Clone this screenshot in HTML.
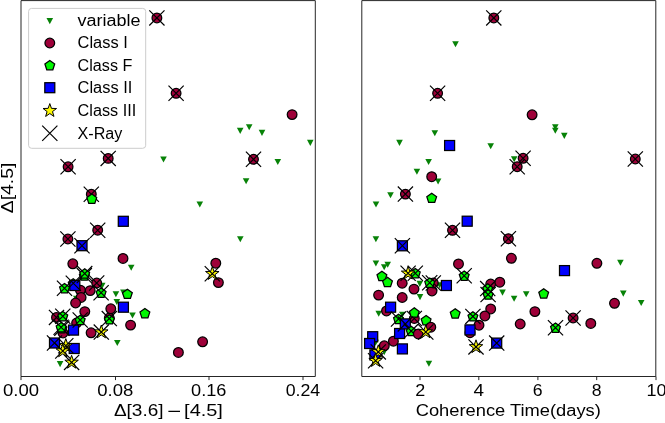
<!DOCTYPE html><html><head><meta charset="utf-8"><style>html,body{margin:0;padding:0;background:#fff}body{width:665px;height:423px;position:relative;overflow:hidden;font-family:"Liberation Sans",sans-serif}</style></head><body><svg width="665" height="423" viewBox="0 0 665 423" style="position:absolute;left:0;top:0;will-change:transform;opacity:0.999">
<rect width="665" height="423" fill="#fff"/>
<defs><clipPath id="cl"><rect x="21" y="0" width="294" height="376"/></clipPath><clipPath id="cr"><rect x="361" y="0" width="294" height="376"/></clipPath></defs>
<g>
<path d="M236.90,127.85L243.50,127.85L240.20,133.95Z" fill="#078207"/>
<path d="M245.90,124.25L252.50,124.25L249.20,130.35Z" fill="#078207"/>
<path d="M258.70,129.85L265.30,129.85L262.00,135.95Z" fill="#078207"/>
<path d="M307.00,139.85L313.60,139.85L310.30,145.95Z" fill="#078207"/>
<path d="M160.20,156.45L166.80,156.45L163.50,162.55Z" fill="#078207"/>
<path d="M274.50,158.95L281.10,158.95L277.80,165.05Z" fill="#078207"/>
<path d="M242.80,178.15L249.40,178.15L246.10,184.25Z" fill="#078207"/>
<path d="M196.50,201.45L203.10,201.45L199.80,207.55Z" fill="#078207"/>
<path d="M237.00,236.25L243.60,236.25L240.30,242.35Z" fill="#078207"/>
<path d="M127.90,264.75L134.50,264.75L131.20,270.85Z" fill="#078207"/>
<path d="M98.90,282.85L105.50,282.85L102.20,288.95Z" fill="#078207"/>
<path d="M112.60,291.25L119.20,291.25L115.90,297.35Z" fill="#078207"/>
<path d="M120.10,289.45L126.70,289.45L123.40,295.55Z" fill="#078207"/>
<path d="M113.50,298.95L120.10,298.95L116.80,305.05Z" fill="#078207"/>
<path d="M129.20,312.45L135.80,312.45L132.50,318.55Z" fill="#078207"/>
<path d="M114.00,339.95L120.60,339.95L117.30,346.05Z" fill="#078207"/>
<path d="M56.80,361.05L63.40,361.05L60.10,367.15Z" fill="#078207"/>
<path d="M73.00,295.85L79.60,295.85L76.30,301.95Z" fill="#078207"/>
<circle cx="156.90" cy="17.90" r="4.85" fill="#9e0039" stroke="#000" stroke-width="1.25"/>
<path d="M149.30,10.30L164.50,25.50M149.30,25.50L164.50,10.30" stroke="#000" stroke-width="1.2" fill="none"/>
<circle cx="176.10" cy="93.30" r="4.85" fill="#9e0039" stroke="#000" stroke-width="1.25"/>
<path d="M168.50,85.70L183.70,100.90M168.50,100.90L183.70,85.70" stroke="#000" stroke-width="1.2" fill="none"/>
<circle cx="292.10" cy="114.60" r="4.85" fill="#9e0039" stroke="#000" stroke-width="1.25"/>
<circle cx="253.50" cy="159.30" r="4.85" fill="#9e0039" stroke="#000" stroke-width="1.25"/>
<path d="M245.90,151.70L261.10,166.90M245.90,166.90L261.10,151.70" stroke="#000" stroke-width="1.2" fill="none"/>
<circle cx="108.20" cy="158.40" r="4.85" fill="#9e0039" stroke="#000" stroke-width="1.25"/>
<path d="M100.60,150.80L115.80,166.00M100.60,166.00L115.80,150.80" stroke="#000" stroke-width="1.2" fill="none"/>
<circle cx="68.10" cy="166.80" r="4.85" fill="#9e0039" stroke="#000" stroke-width="1.25"/>
<path d="M60.50,159.20L75.70,174.40M60.50,174.40L75.70,159.20" stroke="#000" stroke-width="1.2" fill="none"/>
<circle cx="91.30" cy="194.20" r="4.85" fill="#9e0039" stroke="#000" stroke-width="1.25"/>
<path d="M83.70,186.60L98.90,201.80M83.70,201.80L98.90,186.60" stroke="#000" stroke-width="1.2" fill="none"/>
<polygon points="91.80,194.05 96.70,197.61 94.83,203.37 88.77,203.37 86.90,197.61" fill="#00f800" stroke="#000" stroke-width="1.25" stroke-linejoin="miter"/>
<rect x="118.30" y="216.30" width="10.0" height="10.0" fill="#0000ff" stroke="#000" stroke-width="1.25"/>
<circle cx="97.70" cy="230.20" r="4.85" fill="#9e0039" stroke="#000" stroke-width="1.25"/>
<path d="M90.10,222.60L105.30,237.80M90.10,237.80L105.30,222.60" stroke="#000" stroke-width="1.2" fill="none"/>
<circle cx="67.90" cy="239.00" r="4.85" fill="#9e0039" stroke="#000" stroke-width="1.25"/>
<path d="M60.30,231.40L75.50,246.60M60.30,246.60L75.50,231.40" stroke="#000" stroke-width="1.2" fill="none"/>
<rect x="77.00" y="240.70" width="10.0" height="10.0" fill="#0000ff" stroke="#000" stroke-width="1.25"/>
<path d="M74.40,238.10L89.60,253.30M74.40,253.30L89.60,238.10" stroke="#000" stroke-width="1.2" fill="none"/>
<circle cx="218.40" cy="282.60" r="4.85" fill="#9e0039" stroke="#000" stroke-width="1.25"/>
<polygon points="212.30,266.60 213.98,271.39 219.05,271.51 215.01,274.58 216.47,279.44 212.30,276.55 208.13,279.44 209.59,274.58 205.55,271.51 210.62,271.39" fill="#fcf800" stroke="#000" stroke-width="1.0" stroke-linejoin="miter"/>
<path d="M204.70,266.10L219.90,281.30M204.70,281.30L219.90,266.10" stroke="#000" stroke-width="1.2" fill="none"/>
<circle cx="215.80" cy="263.20" r="4.85" fill="#9e0039" stroke="#000" stroke-width="1.25"/>
<circle cx="202.60" cy="341.80" r="4.85" fill="#9e0039" stroke="#000" stroke-width="1.25"/>
<circle cx="178.40" cy="352.40" r="4.85" fill="#9e0039" stroke="#000" stroke-width="1.25"/>
<circle cx="123.00" cy="258.40" r="4.85" fill="#9e0039" stroke="#000" stroke-width="1.25"/>
<circle cx="90.20" cy="290.60" r="4.85" fill="#9e0039" stroke="#000" stroke-width="1.25"/>
<circle cx="96.70" cy="283.00" r="4.85" fill="#9e0039" stroke="#000" stroke-width="1.25"/>
<path d="M89.10,275.40L104.30,290.60M89.10,290.60L104.30,275.40" stroke="#000" stroke-width="1.2" fill="none"/>
<polygon points="101.10,288.05 106.00,291.61 104.13,297.37 98.07,297.37 96.20,291.61" fill="#00f800" stroke="#000" stroke-width="1.25" stroke-linejoin="miter"/>
<path d="M93.50,285.20L108.70,300.40M93.50,300.40L108.70,285.20" stroke="#000" stroke-width="1.2" fill="none"/>
<polygon points="73.20,278.65 78.10,282.21 76.23,287.97 70.17,287.97 68.30,282.21" fill="#00f800" stroke="#000" stroke-width="1.25" stroke-linejoin="miter"/>
<circle cx="80.40" cy="290.10" r="4.85" fill="#9e0039" stroke="#000" stroke-width="1.25"/>
<rect x="69.80" y="280.50" width="10.0" height="10.0" fill="#0000ff" stroke="#000" stroke-width="1.25"/>
<path d="M65.70,275.70L80.90,290.90M65.70,290.90L80.90,275.70" stroke="#000" stroke-width="1.2" fill="none"/>
<polygon points="84.30,270.85 89.20,274.41 87.33,280.17 81.27,280.17 79.40,274.41" fill="#00f800" stroke="#000" stroke-width="1.25" stroke-linejoin="miter"/>
<path d="M76.70,268.00L91.90,283.20M76.70,283.20L91.90,268.00" stroke="#000" stroke-width="1.2" fill="none"/>
<polygon points="84.70,268.85 89.60,272.41 87.73,278.17 81.67,278.17 79.80,272.41" fill="#00f800" stroke="#000" stroke-width="1.25" stroke-linejoin="miter"/>
<path d="M77.10,266.00L92.30,281.20M77.10,281.20L92.30,266.00" stroke="#000" stroke-width="1.2" fill="none"/>
<circle cx="72.80" cy="263.80" r="4.85" fill="#9e0039" stroke="#000" stroke-width="1.25"/>
<polygon points="64.50,283.55 69.40,287.11 67.53,292.87 61.47,292.87 59.60,287.11" fill="#00f800" stroke="#000" stroke-width="1.25" stroke-linejoin="miter"/>
<path d="M56.90,280.70L72.10,295.90M56.90,295.90L72.10,280.70" stroke="#000" stroke-width="1.2" fill="none"/>
<circle cx="81.10" cy="297.40" r="4.85" fill="#9e0039" stroke="#000" stroke-width="1.25"/>
<circle cx="75.60" cy="303.00" r="4.85" fill="#9e0039" stroke="#000" stroke-width="1.25"/>
<polygon points="127.40,289.15 132.30,292.71 130.43,298.47 124.37,298.47 122.50,292.71" fill="#00f800" stroke="#000" stroke-width="1.25" stroke-linejoin="miter"/>
<circle cx="109.30" cy="318.00" r="4.85" fill="#9e0039" stroke="#000" stroke-width="1.25"/>
<polygon points="109.40,314.65 114.30,318.21 112.43,323.97 106.37,323.97 104.50,318.21" fill="#00f800" stroke="#000" stroke-width="1.25" stroke-linejoin="miter"/>
<path d="M101.70,311.00L116.90,326.20M101.70,326.20L116.90,311.00" stroke="#000" stroke-width="1.2" fill="none"/>
<circle cx="110.80" cy="308.80" r="4.85" fill="#9e0039" stroke="#000" stroke-width="1.25"/>
<rect x="118.40" y="302.20" width="10.0" height="10.0" fill="#0000ff" stroke="#000" stroke-width="1.25"/>
<polygon points="144.90,308.55 149.80,312.11 147.93,317.87 141.87,317.87 140.00,312.11" fill="#00f800" stroke="#000" stroke-width="1.25" stroke-linejoin="miter"/>
<circle cx="130.60" cy="325.10" r="4.85" fill="#9e0039" stroke="#000" stroke-width="1.25"/>
<circle cx="56.50" cy="317.40" r="4.85" fill="#9e0039" stroke="#000" stroke-width="1.25"/>
<path d="M48.90,309.80L64.10,325.00M48.90,325.00L64.10,309.80" stroke="#000" stroke-width="1.2" fill="none"/>
<polygon points="62.80,311.45 67.70,315.01 65.83,320.77 59.77,320.77 57.90,315.01" fill="#00f800" stroke="#000" stroke-width="1.25" stroke-linejoin="miter"/>
<path d="M55.20,308.60L70.40,323.80M55.20,323.80L70.40,308.60" stroke="#000" stroke-width="1.2" fill="none"/>
<circle cx="63.00" cy="333.00" r="4.85" fill="#9e0039" stroke="#000" stroke-width="1.25"/>
<polygon points="61.90,323.55 66.80,327.11 64.93,332.87 58.87,332.87 57.00,327.11" fill="#00f800" stroke="#000" stroke-width="1.25" stroke-linejoin="miter"/>
<path d="M54.30,320.70L69.50,335.90M54.30,335.90L69.50,320.70" stroke="#000" stroke-width="1.2" fill="none"/>
<polygon points="61.10,322.55 66.00,326.11 64.13,331.87 58.07,331.87 56.20,326.11" fill="#00f800" stroke="#000" stroke-width="1.25" stroke-linejoin="miter"/>
<path d="M53.50,319.70L68.70,334.90M53.50,334.90L68.70,319.70" stroke="#000" stroke-width="1.2" fill="none"/>
<circle cx="84.80" cy="311.60" r="4.85" fill="#9e0039" stroke="#000" stroke-width="1.25"/>
<circle cx="76.60" cy="323.00" r="4.85" fill="#9e0039" stroke="#000" stroke-width="1.25"/>
<rect x="68.50" y="325.10" width="10.0" height="10.0" fill="#0000ff" stroke="#000" stroke-width="1.25"/>
<polygon points="80.20,315.25 85.10,318.81 83.23,324.57 77.17,324.57 75.30,318.81" fill="#00f800" stroke="#000" stroke-width="1.25" stroke-linejoin="miter"/>
<path d="M72.60,312.40L87.80,327.60M72.60,327.60L87.80,312.40" stroke="#000" stroke-width="1.2" fill="none"/>
<circle cx="91.10" cy="332.80" r="4.85" fill="#9e0039" stroke="#000" stroke-width="1.25"/>
<polygon points="101.30,325.00 102.98,329.79 108.05,329.91 104.01,332.98 105.47,337.84 101.30,334.95 97.13,337.84 98.59,332.98 94.55,329.91 99.62,329.79" fill="#fcf800" stroke="#000" stroke-width="1.0" stroke-linejoin="miter"/>
<path d="M93.70,324.50L108.90,339.70M93.70,339.70L108.90,324.50" stroke="#000" stroke-width="1.2" fill="none"/>
<rect x="49.50" y="338.00" width="10.0" height="10.0" fill="#0000ff" stroke="#000" stroke-width="1.25"/>
<path d="M46.90,335.40L62.10,350.60M46.90,350.60L62.10,335.40" stroke="#000" stroke-width="1.2" fill="none"/>
<rect x="69.20" y="343.50" width="10.0" height="10.0" fill="#0000ff" stroke="#000" stroke-width="1.25"/>
<polygon points="65.80,338.60 67.48,343.39 72.55,343.51 68.51,346.58 69.97,351.44 65.80,348.55 61.63,351.44 63.09,346.58 59.05,343.51 64.12,343.39" fill="#fcf800" stroke="#000" stroke-width="1.0" stroke-linejoin="miter"/>
<path d="M58.20,338.10L73.40,353.30M58.20,353.30L73.40,338.10" stroke="#000" stroke-width="1.2" fill="none"/>
<polygon points="62.80,343.90 64.48,348.69 69.55,348.81 65.51,351.88 66.97,356.74 62.80,353.85 58.63,356.74 60.09,351.88 56.05,348.81 61.12,348.69" fill="#fcf800" stroke="#000" stroke-width="1.0" stroke-linejoin="miter"/>
<path d="M55.20,343.40L70.40,358.60M55.20,358.60L70.40,343.40" stroke="#000" stroke-width="1.2" fill="none"/>
<polygon points="71.60,355.30 73.28,360.09 78.35,360.21 74.31,363.28 75.77,368.14 71.60,365.25 67.43,368.14 68.89,363.28 64.85,360.21 69.92,360.09" fill="#fcf800" stroke="#000" stroke-width="1.0" stroke-linejoin="miter"/>
<path d="M64.00,354.80L79.20,370.00M64.00,370.00L79.20,354.80" stroke="#000" stroke-width="1.2" fill="none"/>
</g>
<g>
<path d="M452.20,41.15L458.80,41.15L455.50,47.25Z" fill="#078207"/>
<path d="M431.50,130.15L438.10,130.15L434.80,136.25Z" fill="#078207"/>
<path d="M396.20,139.85L402.80,139.85L399.50,145.95Z" fill="#078207"/>
<path d="M487.40,143.15L494.00,143.15L490.70,149.25Z" fill="#078207"/>
<path d="M425.30,158.95L431.90,158.95L428.60,165.05Z" fill="#078207"/>
<path d="M413.60,168.75L420.20,168.75L416.90,174.85Z" fill="#078207"/>
<path d="M434.80,178.45L441.40,178.45L438.10,184.55Z" fill="#078207"/>
<path d="M387.20,192.25L393.80,192.25L390.50,198.35Z" fill="#078207"/>
<path d="M372.70,201.45L379.30,201.45L376.00,207.55Z" fill="#078207"/>
<path d="M510.90,156.25L517.50,156.25L514.20,162.35Z" fill="#078207"/>
<path d="M552.00,124.25L558.60,124.25L555.30,130.35Z" fill="#078207"/>
<path d="M552.00,127.75L558.60,127.75L555.30,133.85Z" fill="#078207"/>
<path d="M561.00,132.85L567.60,132.85L564.30,138.95Z" fill="#078207"/>
<path d="M372.60,236.25L379.20,236.25L375.90,242.35Z" fill="#078207"/>
<path d="M372.60,260.45L379.20,260.45L375.90,266.55Z" fill="#078207"/>
<path d="M384.40,261.75L391.00,261.75L387.70,267.85Z" fill="#078207"/>
<path d="M380.90,264.25L387.50,264.25L384.20,270.35Z" fill="#078207"/>
<path d="M416.50,280.85L423.10,280.85L419.80,286.95Z" fill="#078207"/>
<path d="M416.70,294.05L423.30,294.05L420.00,300.15Z" fill="#078207"/>
<path d="M436.30,282.25L442.90,282.25L439.60,288.35Z" fill="#078207"/>
<path d="M375.40,310.65L382.00,310.65L378.70,316.75Z" fill="#078207"/>
<path d="M399.00,311.65L405.60,311.65L402.30,317.75Z" fill="#078207"/>
<path d="M372.30,339.65L378.90,339.65L375.60,345.75Z" fill="#078207"/>
<path d="M380.90,349.05L387.50,349.05L384.20,355.15Z" fill="#078207"/>
<path d="M499.20,289.55L505.80,289.55L502.50,295.65Z" fill="#078207"/>
<path d="M510.80,295.65L517.40,295.65L514.10,301.75Z" fill="#078207"/>
<path d="M522.90,291.25L529.50,291.25L526.20,297.35Z" fill="#078207"/>
<path d="M617.10,259.65L623.70,259.65L620.40,265.75Z" fill="#078207"/>
<path d="M620.00,290.55L626.60,290.55L623.30,296.65Z" fill="#078207"/>
<path d="M637.90,299.95L644.50,299.95L641.20,306.05Z" fill="#078207"/>
<path d="M425.60,360.65L432.20,360.65L428.90,366.75Z" fill="#078207"/>
<circle cx="493.80" cy="17.90" r="4.85" fill="#9e0039" stroke="#000" stroke-width="1.25"/>
<path d="M486.20,10.30L501.40,25.50M486.20,25.50L501.40,10.30" stroke="#000" stroke-width="1.2" fill="none"/>
<circle cx="437.60" cy="93.30" r="4.85" fill="#9e0039" stroke="#000" stroke-width="1.25"/>
<path d="M430.00,85.70L445.20,100.90M430.00,100.90L445.20,85.70" stroke="#000" stroke-width="1.2" fill="none"/>
<rect x="444.60" y="140.50" width="10.0" height="10.0" fill="#0000ff" stroke="#000" stroke-width="1.25"/>
<circle cx="431.70" cy="176.70" r="4.85" fill="#9e0039" stroke="#000" stroke-width="1.25"/>
<circle cx="405.40" cy="194.10" r="4.85" fill="#9e0039" stroke="#000" stroke-width="1.25"/>
<path d="M397.80,186.50L413.00,201.70M397.80,201.70L413.00,186.50" stroke="#000" stroke-width="1.2" fill="none"/>
<polygon points="431.70,193.15 436.60,196.71 434.73,202.47 428.67,202.47 426.80,196.71" fill="#00f800" stroke="#000" stroke-width="1.25" stroke-linejoin="miter"/>
<circle cx="532.10" cy="114.80" r="4.85" fill="#9e0039" stroke="#000" stroke-width="1.25"/>
<circle cx="523.10" cy="158.30" r="4.85" fill="#9e0039" stroke="#000" stroke-width="1.25"/>
<path d="M515.50,150.70L530.70,165.90M515.50,165.90L530.70,150.70" stroke="#000" stroke-width="1.2" fill="none"/>
<circle cx="517.20" cy="166.70" r="4.85" fill="#9e0039" stroke="#000" stroke-width="1.25"/>
<path d="M509.60,159.10L524.80,174.30M509.60,174.30L524.80,159.10" stroke="#000" stroke-width="1.2" fill="none"/>
<circle cx="635.30" cy="159.00" r="4.85" fill="#9e0039" stroke="#000" stroke-width="1.25"/>
<path d="M627.70,151.40L642.90,166.60M627.70,166.60L642.90,151.40" stroke="#000" stroke-width="1.2" fill="none"/>
<rect x="397.40" y="240.80" width="10.0" height="10.0" fill="#0000ff" stroke="#000" stroke-width="1.25"/>
<path d="M394.80,238.20L410.00,253.40M394.80,253.40L410.00,238.20" stroke="#000" stroke-width="1.2" fill="none"/>
<circle cx="452.50" cy="230.30" r="4.85" fill="#9e0039" stroke="#000" stroke-width="1.25"/>
<path d="M444.90,222.70L460.10,237.90M444.90,237.90L460.10,222.70" stroke="#000" stroke-width="1.2" fill="none"/>
<rect x="462.20" y="216.20" width="10.0" height="10.0" fill="#0000ff" stroke="#000" stroke-width="1.25"/>
<circle cx="508.40" cy="238.70" r="4.85" fill="#9e0039" stroke="#000" stroke-width="1.25"/>
<path d="M500.80,231.10L516.00,246.30M500.80,246.30L516.00,231.10" stroke="#000" stroke-width="1.2" fill="none"/>
<circle cx="511.40" cy="258.30" r="4.85" fill="#9e0039" stroke="#000" stroke-width="1.25"/>
<circle cx="458.50" cy="263.90" r="4.85" fill="#9e0039" stroke="#000" stroke-width="1.25"/>
<polygon points="381.90,271.25 386.80,274.81 384.93,280.57 378.87,280.57 377.00,274.81" fill="#00f800" stroke="#000" stroke-width="1.25" stroke-linejoin="miter"/>
<polygon points="387.50,277.35 392.40,280.91 390.53,286.67 384.47,286.67 382.60,280.91" fill="#00f800" stroke="#000" stroke-width="1.25" stroke-linejoin="miter"/>
<circle cx="402.20" cy="283.20" r="4.85" fill="#9e0039" stroke="#000" stroke-width="1.25"/>
<polygon points="415.30,268.55 420.20,272.11 418.33,277.87 412.27,277.87 410.40,272.11" fill="#00f800" stroke="#000" stroke-width="1.25" stroke-linejoin="miter"/>
<path d="M407.70,265.70L422.90,280.90M407.70,280.90L422.90,265.70" stroke="#000" stroke-width="1.2" fill="none"/>
<polygon points="408.10,266.20 409.78,270.99 414.85,271.11 410.81,274.18 412.27,279.04 408.10,276.15 403.93,279.04 405.39,274.18 401.35,271.11 406.42,270.99" fill="#fcf800" stroke="#000" stroke-width="1.0" stroke-linejoin="miter"/>
<path d="M400.50,265.70L415.70,280.90M400.50,280.90L415.70,265.70" stroke="#000" stroke-width="1.2" fill="none"/>
<circle cx="414.00" cy="289.10" r="4.85" fill="#9e0039" stroke="#000" stroke-width="1.25"/>
<circle cx="378.60" cy="295.10" r="4.85" fill="#9e0039" stroke="#000" stroke-width="1.25"/>
<circle cx="402.20" cy="297.50" r="4.85" fill="#9e0039" stroke="#000" stroke-width="1.25"/>
<circle cx="432.00" cy="290.90" r="4.85" fill="#9e0039" stroke="#000" stroke-width="1.25"/>
<circle cx="433.30" cy="283.00" r="4.85" fill="#9e0039" stroke="#000" stroke-width="1.25"/>
<path d="M425.70,275.40L440.90,290.60M425.70,290.60L440.90,275.40" stroke="#000" stroke-width="1.2" fill="none"/>
<polygon points="429.70,278.05 434.60,281.61 432.73,287.37 426.67,287.37 424.80,281.61" fill="#00f800" stroke="#000" stroke-width="1.25" stroke-linejoin="miter"/>
<path d="M422.10,275.20L437.30,290.40M422.10,290.40L437.30,275.20" stroke="#000" stroke-width="1.2" fill="none"/>
<rect x="441.40" y="280.50" width="10.0" height="10.0" fill="#0000ff" stroke="#000" stroke-width="1.25"/>
<polygon points="464.20,270.95 469.10,274.51 467.23,280.27 461.17,280.27 459.30,274.51" fill="#00f800" stroke="#000" stroke-width="1.25" stroke-linejoin="miter"/>
<path d="M456.60,268.10L471.80,283.30M456.60,283.30L471.80,268.10" stroke="#000" stroke-width="1.2" fill="none"/>
<circle cx="490.70" cy="284.00" r="4.85" fill="#9e0039" stroke="#000" stroke-width="1.25"/>
<circle cx="499.80" cy="282.20" r="4.85" fill="#9e0039" stroke="#000" stroke-width="1.25"/>
<polygon points="487.70,283.85 492.60,287.41 490.73,293.17 484.67,293.17 482.80,287.41" fill="#00f800" stroke="#000" stroke-width="1.25" stroke-linejoin="miter"/>
<path d="M480.10,281.00L495.30,296.20M480.10,296.20L495.30,281.00" stroke="#000" stroke-width="1.2" fill="none"/>
<polygon points="488.10,289.85 493.00,293.41 491.13,299.17 485.07,299.17 483.20,293.41" fill="#00f800" stroke="#000" stroke-width="1.25" stroke-linejoin="miter"/>
<path d="M480.50,287.00L495.70,302.20M480.50,302.20L495.70,287.00" stroke="#000" stroke-width="1.2" fill="none"/>
<polygon points="543.70,288.75 548.60,292.31 546.73,298.07 540.67,298.07 538.80,292.31" fill="#00f800" stroke="#000" stroke-width="1.25" stroke-linejoin="miter"/>
<rect x="559.50" y="265.60" width="10.0" height="10.0" fill="#0000ff" stroke="#000" stroke-width="1.25"/>
<circle cx="596.90" cy="263.30" r="4.85" fill="#9e0039" stroke="#000" stroke-width="1.25"/>
<circle cx="614.50" cy="303.30" r="4.85" fill="#9e0039" stroke="#000" stroke-width="1.25"/>
<circle cx="534.90" cy="311.60" r="4.85" fill="#9e0039" stroke="#000" stroke-width="1.25"/>
<circle cx="573.10" cy="318.00" r="4.85" fill="#9e0039" stroke="#000" stroke-width="1.25"/>
<path d="M565.50,310.40L580.70,325.60M565.50,325.60L580.70,310.40" stroke="#000" stroke-width="1.2" fill="none"/>
<circle cx="590.80" cy="323.40" r="4.85" fill="#9e0039" stroke="#000" stroke-width="1.25"/>
<polygon points="555.50,322.95 560.40,326.51 558.53,332.27 552.47,332.27 550.60,326.51" fill="#00f800" stroke="#000" stroke-width="1.25" stroke-linejoin="miter"/>
<path d="M547.90,320.10L563.10,335.30M547.90,335.30L563.10,320.10" stroke="#000" stroke-width="1.2" fill="none"/>
<circle cx="386.50" cy="310.90" r="4.85" fill="#9e0039" stroke="#000" stroke-width="1.25"/>
<rect x="385.60" y="302.20" width="10.0" height="10.0" fill="#0000ff" stroke="#000" stroke-width="1.25"/>
<circle cx="414.30" cy="318.50" r="4.85" fill="#9e0039" stroke="#000" stroke-width="1.25"/>
<path d="M406.70,310.90L421.90,326.10M406.70,326.10L421.90,310.90" stroke="#000" stroke-width="1.2" fill="none"/>
<polygon points="414.30,307.85 419.20,311.41 417.33,317.17 411.27,317.17 409.40,311.41" fill="#00f800" stroke="#000" stroke-width="1.25" stroke-linejoin="miter"/>
<polygon points="426.10,315.55 431.00,319.11 429.13,324.87 423.07,324.87 421.20,319.11" fill="#00f800" stroke="#000" stroke-width="1.25" stroke-linejoin="miter"/>
<polygon points="398.50,314.25 403.40,317.81 401.53,323.57 395.47,323.57 393.60,317.81" fill="#00f800" stroke="#000" stroke-width="1.25" stroke-linejoin="miter"/>
<path d="M390.90,311.40L406.10,326.60M390.90,326.60L406.10,311.40" stroke="#000" stroke-width="1.2" fill="none"/>
<circle cx="393.40" cy="341.20" r="4.85" fill="#9e0039" stroke="#000" stroke-width="1.25"/>
<rect x="394.60" y="328.50" width="10.0" height="10.0" fill="#0000ff" stroke="#000" stroke-width="1.25"/>
<rect x="400.30" y="318.90" width="10.0" height="10.0" fill="#0000ff" stroke="#000" stroke-width="1.25"/>
<path d="M397.70,316.30L412.90,331.50M397.70,331.50L412.90,316.30" stroke="#000" stroke-width="1.2" fill="none"/>
<polygon points="411.20,326.35 416.10,329.91 414.23,335.67 408.17,335.67 406.30,329.91" fill="#00f800" stroke="#000" stroke-width="1.25" stroke-linejoin="miter"/>
<path d="M403.60,323.50L418.80,338.70M403.60,338.70L418.80,323.50" stroke="#000" stroke-width="1.2" fill="none"/>
<circle cx="418.30" cy="333.90" r="4.85" fill="#9e0039" stroke="#000" stroke-width="1.25"/>
<circle cx="430.80" cy="327.20" r="4.85" fill="#9e0039" stroke="#000" stroke-width="1.25"/>
<polygon points="425.80,324.90 427.48,329.69 432.55,329.81 428.51,332.88 429.97,337.74 425.80,334.85 421.63,337.74 423.09,332.88 419.05,329.81 424.12,329.69" fill="#fcf800" stroke="#000" stroke-width="1.0" stroke-linejoin="miter"/>
<path d="M418.20,324.40L433.40,339.60M418.20,339.60L433.40,324.40" stroke="#000" stroke-width="1.2" fill="none"/>
<rect x="367.70" y="331.70" width="10.0" height="10.0" fill="#0000ff" stroke="#000" stroke-width="1.25"/>
<rect x="364.60" y="338.50" width="10.0" height="10.0" fill="#0000ff" stroke="#000" stroke-width="1.25"/>
<circle cx="384.30" cy="345.80" r="4.85" fill="#9e0039" stroke="#000" stroke-width="1.25"/>
<rect x="397.40" y="343.90" width="10.0" height="10.0" fill="#0000ff" stroke="#000" stroke-width="1.25"/>
<rect x="369.90" y="349.90" width="10.0" height="10.0" fill="#0000ff" stroke="#000" stroke-width="1.25"/>
<polygon points="378.30,344.80 379.98,349.59 385.05,349.71 381.01,352.78 382.47,357.64 378.30,354.75 374.13,357.64 375.59,352.78 371.55,349.71 376.62,349.59" fill="#fcf800" stroke="#000" stroke-width="1.0" stroke-linejoin="miter"/>
<path d="M370.70,344.30L385.90,359.50M370.70,359.50L385.90,344.30" stroke="#000" stroke-width="1.2" fill="none"/>
<polygon points="375.60,353.60 377.28,358.39 382.35,358.51 378.31,361.58 379.77,366.44 375.60,363.55 371.43,366.44 372.89,361.58 368.85,358.51 373.92,358.39" fill="#fcf800" stroke="#000" stroke-width="1.0" stroke-linejoin="miter"/>
<path d="M368.00,353.10L383.20,368.30M368.00,368.30L383.20,353.10" stroke="#000" stroke-width="1.2" fill="none"/>
<polygon points="455.20,308.75 460.10,312.31 458.23,318.07 452.17,318.07 450.30,312.31" fill="#00f800" stroke="#000" stroke-width="1.25" stroke-linejoin="miter"/>
<circle cx="490.70" cy="308.90" r="4.85" fill="#9e0039" stroke="#000" stroke-width="1.25"/>
<circle cx="484.90" cy="315.90" r="4.85" fill="#9e0039" stroke="#000" stroke-width="1.25"/>
<circle cx="479.00" cy="325.20" r="4.85" fill="#9e0039" stroke="#000" stroke-width="1.25"/>
<polygon points="472.90,311.65 477.80,315.21 475.93,320.97 469.87,320.97 468.00,315.21" fill="#00f800" stroke="#000" stroke-width="1.25" stroke-linejoin="miter"/>
<path d="M465.30,308.80L480.50,324.00M465.30,324.00L480.50,308.80" stroke="#000" stroke-width="1.2" fill="none"/>
<circle cx="470.00" cy="332.70" r="4.85" fill="#9e0039" stroke="#000" stroke-width="1.25"/>
<rect x="465.00" y="324.90" width="10.0" height="10.0" fill="#0000ff" stroke="#000" stroke-width="1.25"/>
<circle cx="520.20" cy="324.00" r="4.85" fill="#9e0039" stroke="#000" stroke-width="1.25"/>
<polygon points="476.00,339.80 477.68,344.59 482.75,344.71 478.71,347.78 480.17,352.64 476.00,349.75 471.83,352.64 473.29,347.78 469.25,344.71 474.32,344.59" fill="#fcf800" stroke="#000" stroke-width="1.0" stroke-linejoin="miter"/>
<path d="M468.40,339.30L483.60,354.50M468.40,354.50L483.60,339.30" stroke="#000" stroke-width="1.2" fill="none"/>
<rect x="491.70" y="338.10" width="10.0" height="10.0" fill="#0000ff" stroke="#000" stroke-width="1.25"/>
<path d="M489.10,335.50L504.30,350.70M489.10,350.70L504.30,335.50" stroke="#000" stroke-width="1.2" fill="none"/>
</g>
<path d="M21.0,0.6H315.3V376.5H21.0Z" fill="none" stroke="#1a1a1a" stroke-width="0.95"/>
<path d="M361.8,0.6H655.8V376.5H361.8Z" fill="none" stroke="#1a1a1a" stroke-width="0.95"/>
<path d="M21.0,376.5v3.6" stroke="#1a1a1a" stroke-width="0.95"/>
<path d="M115.5,376.5v3.6" stroke="#1a1a1a" stroke-width="0.95"/>
<path d="M209.0,376.5v3.6" stroke="#1a1a1a" stroke-width="0.95"/>
<path d="M303.0,376.5v3.6" stroke="#1a1a1a" stroke-width="0.95"/>
<path d="M420.0,376.5v3.6" stroke="#1a1a1a" stroke-width="0.95"/>
<path d="M478.8,376.5v3.6" stroke="#1a1a1a" stroke-width="0.95"/>
<path d="M537.9,376.5v3.6" stroke="#1a1a1a" stroke-width="0.95"/>
<path d="M596.7,376.5v3.6" stroke="#1a1a1a" stroke-width="0.95"/>
<path d="M656.0,376.5v3.6" stroke="#1a1a1a" stroke-width="0.95"/>
<g font-family="Liberation Sans, sans-serif" fill="#000">
<text x="3.0" y="396.0" font-size="16.0" text-anchor="start" textLength="35.99999999999999" lengthAdjust="spacingAndGlyphs" >0.00</text>
<text x="97.30000000000001" y="396.0" font-size="16.0" text-anchor="start" textLength="35.999999999999986" lengthAdjust="spacingAndGlyphs" >0.08</text>
<text x="191.1" y="396.0" font-size="16.0" text-anchor="start" textLength="35.3" lengthAdjust="spacingAndGlyphs" >0.16</text>
<text x="285.7" y="396.0" font-size="16.0" text-anchor="start" textLength="34.499999999999986" lengthAdjust="spacingAndGlyphs" >0.24</text>
<text x="415.2" y="396.0" font-size="16.0" text-anchor="start" textLength="10.0" lengthAdjust="spacingAndGlyphs" >2</text>
<text x="473.6" y="396.0" font-size="16.0" text-anchor="start" textLength="10.5" lengthAdjust="spacingAndGlyphs" >4</text>
<text x="532.8" y="396.0" font-size="16.0" text-anchor="start" textLength="9.800000000000068" lengthAdjust="spacingAndGlyphs" >6</text>
<text x="591.8" y="396.0" font-size="16.0" text-anchor="start" textLength="9.800000000000068" lengthAdjust="spacingAndGlyphs" >8</text>
<text x="646.6" y="396.0" font-size="16.0" text-anchor="start" textLength="20.0" lengthAdjust="spacingAndGlyphs" >10</text>
<text x="113.89999999999999" y="416.0" font-size="16.0" text-anchor="start" textLength="49.6" lengthAdjust="spacingAndGlyphs" >Δ[3.6]</text>
<rect x="168.4" y="410.75" width="11.6" height="1.25" fill="#000"/>
<text x="184.10000000000002" y="416.0" font-size="16.0" text-anchor="start" textLength="38.799999999999976" lengthAdjust="spacingAndGlyphs" >[4.5]</text>
<text x="415.7" y="416.0" font-size="16.0" text-anchor="start" textLength="185.1" lengthAdjust="spacingAndGlyphs" >Coherence Time(days)</text>
<text x="0" y="0" font-size="16.0" text-anchor="start" textLength="50.7" lengthAdjust="spacingAndGlyphs" transform="translate(13.0,213.3) rotate(-90)">Δ[4.5]</text>
</g>
<rect x="28.6" y="8.4" width="117.1" height="139.9" rx="3" ry="3" fill="#fff" fill-opacity="0.8" stroke="#ccc" stroke-width="1"/>
<path d="M46.50,18.05L53.10,18.05L49.80,24.15Z" fill="#078207"/>
<circle cx="49.80" cy="43.00" r="4.85" fill="#9e0039" stroke="#000" stroke-width="1.25"/>
<polygon points="49.80,60.45 54.70,64.01 52.83,69.77 46.77,69.77 44.90,64.01" fill="#00f800" stroke="#000" stroke-width="1.25" stroke-linejoin="miter"/>
<rect x="44.80" y="82.70" width="10.0" height="10.0" fill="#0000ff" stroke="#000" stroke-width="1.25"/>
<polygon points="49.80,103.60 51.48,108.39 56.55,108.51 52.51,111.58 53.97,116.44 49.80,113.55 45.63,116.44 47.09,111.58 43.05,108.51 48.12,108.39" fill="#fcf800" stroke="#000" stroke-width="1.0" stroke-linejoin="miter"/>
<path d="M42.20,125.60L57.40,140.80M42.20,140.80L57.40,125.60" stroke="#000" stroke-width="1.2" fill="none"/>
<g font-family="Liberation Sans, sans-serif" fill="#000">
<text x="77.6" y="25.7" font-size="16.0" text-anchor="start" textLength="62.90000000000001" lengthAdjust="spacingAndGlyphs" >variable</text>
<text x="77.6" y="48.3" font-size="16.0" text-anchor="start" textLength="50.1" lengthAdjust="spacingAndGlyphs" >Class I</text>
<text x="77.6" y="70.5" font-size="16.0" text-anchor="start" textLength="54.699999999999996" lengthAdjust="spacingAndGlyphs" >Class F</text>
<text x="77.6" y="93.0" font-size="16.0" text-anchor="start" textLength="54.699999999999996" lengthAdjust="spacingAndGlyphs" >Class II</text>
<text x="77.6" y="116.0" font-size="16.0" text-anchor="start" textLength="58.6" lengthAdjust="spacingAndGlyphs" >Class III</text>
<text x="77.6" y="138.5" font-size="16.0" text-anchor="start" textLength="44.800000000000004" lengthAdjust="spacingAndGlyphs" >X-Ray</text>
</g>
</svg></body></html>
